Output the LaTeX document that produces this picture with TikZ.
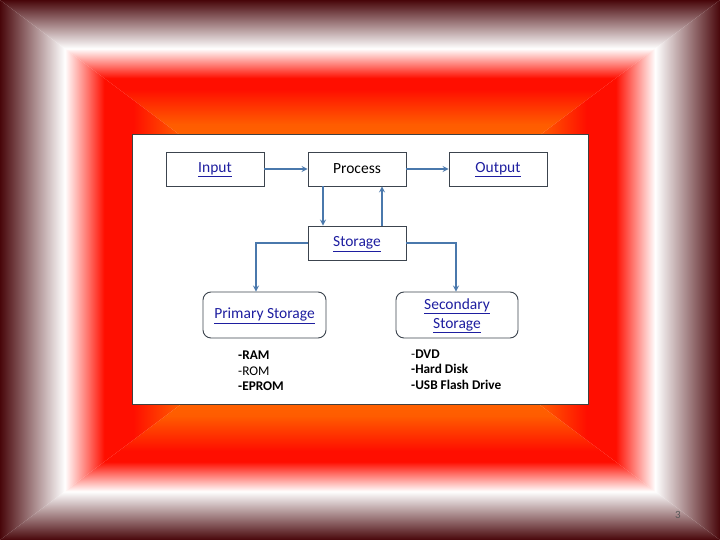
\documentclass[tikz,border=0pt]{standalone}
\usepackage{fontspec}
\setmainfont{Carlito}
\usepackage{xcolor}
\usetikzlibrary{arrows}

\definecolor{framedark}{RGB}{72,6,10}
\definecolor{framered}{RGB}{255,14,0}
\definecolor{frameorange}{RGB}{255,92,0}
\definecolor{framecentre}{RGB}{255,150,0}
\definecolor{linkblue}{RGB}{30,30,160}
\definecolor{arrowblue}{RGB}{74,120,172}
\definecolor{boxline}{RGB}{60,68,78}

\pgfdeclareverticalshading{framev}{100bp}{color(0bp)=(framecentre); color(25bp)=(framecentre);
  color(52bp)=(frameorange); color(58.5bp)=(framered); color(60.5bp)=(framered);
  color(66bp)=(white); color(75bp)=(framedark); color(100bp)=(framedark)}
\pgfdeclarehorizontalshading{frameh}{100bp}{color(0bp)=(framecentre); color(25bp)=(framecentre);
  color(50bp)=(frameorange); color(56.5bp)=(framered); color(60.5bp)=(framered);
  color(66bp)=(white); color(75bp)=(framedark); color(100bp)=(framedark)}

\newcommand{\lnk}[1]{\textcolor{linkblue}{\smash{\underline{#1}}\vphantom{#1}}}

\begin{document}
\begin{tikzpicture}[x=1pt,y=1pt]
\tikzset{box/.style={draw=boxline,line width=0.9pt,fill=white,minimum width=98pt,minimum height=34pt,inner sep=0pt,font=\fontsize{15.5}{19}\selectfont}}
\tikzset{rbox/.style={box,rounded corners=8pt,minimum width=123pt,minimum height=46pt,align=center}}
\tikzset{arr/.style={draw=arrowblue,line width=1.6pt,-stealth}}
\tikzset{listtext/.style={anchor=west,align=left,inner sep=0pt,font=\fontsize{13.3}{15.5}\selectfont}}

\useasboundingbox (0,0) rectangle (720,540);

% frame
\begin{scope}
\clip (0,540) -- (720,540) -- (360,270) -- cycle;
\shade[shading=framev] (0,270) rectangle (720,540);
\end{scope}
\begin{scope}
\clip (0,0) -- (720,0) -- (360,270) -- cycle;
\shade[shading=framev,shading angle=180] (0,0) rectangle (720,270);
\end{scope}
\begin{scope}
\clip (720,0) -- (720,540) -- (360,270) -- cycle;
\shade[shading=frameh] (360,0) rectangle (720,540);
\end{scope}
\begin{scope}
\clip (0,0) -- (0,540) -- (360,270) -- cycle;
\shade[shading=frameh,shading angle=180] (0,0) rectangle (360,540);
\end{scope}

\draw[draw=black!75,fill=white,line width=0.8pt] (132,136) rectangle (588,406);

\node[box] (input) at (215,371) {\lnk{Input}};
\node[box] (process) at (357,371) {Process};
\node[box] (output) at (498,371) {\lnk{Output}};
\node[box] (storage) at (357,297) {\lnk{Storage}};
\node[rbox] (primary) at (264.5,225) {\lnk{Primary Storage}};
\node[rbox,minimum width=122pt] (secondary) at (457,225) {\lnk{Secondary}\\\lnk{Storage}};

\draw[arr] (input) -- (process);
\draw[arr] (process) -- (output);
\draw[arr] ([xshift=-34pt]process.south) -- ([xshift=-34pt]storage.north);
\draw[arr] ([xshift=25pt]storage.north) -- ([xshift=25pt]process.south);
\draw[arr] (storage.west) -| ([xshift=-8.5pt]primary.north);
\draw[arr] (storage.east) -| ([xshift=-1pt]secondary.north);

\node[listtext] (primlist) at (238,169) {\textbf{-RAM}\\-ROM\\\textbf{-EPROM}};
\node[listtext] (seclist) at (411,170.5) {-\textbf{DVD}\\\textbf{-Hard Disk}\\\textbf{-USB Flash Drive}};

\node[text=black!65,font=\fontsize{11}{13}\selectfont] (pagenum) at (678,25) {3};
\end{tikzpicture}
\end{document}
